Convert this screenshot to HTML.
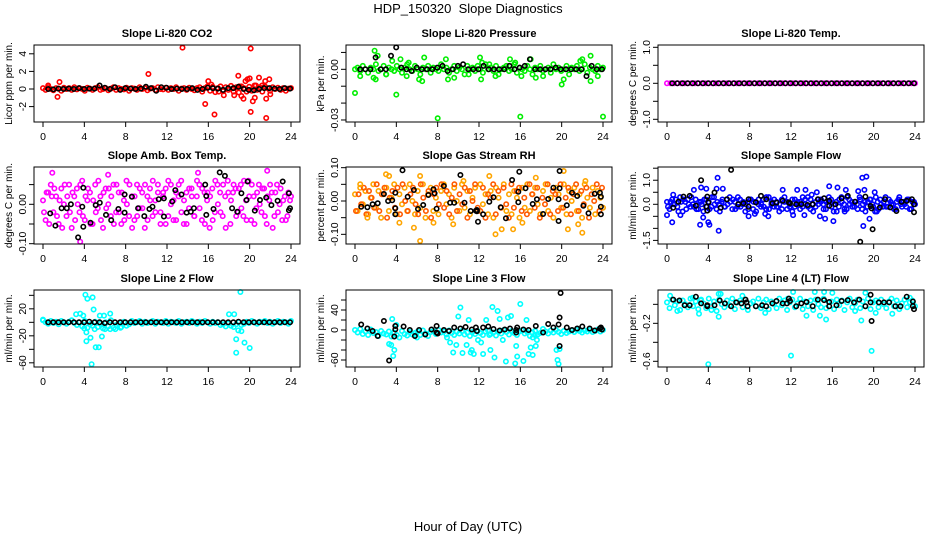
<!DOCTYPE html>
<html><head><meta charset="utf-8"><style>
body{margin:0;background:#fff;}
svg{display:block;font-family:"Liberation Sans",Arial,sans-serif;}
</style></head><body>
<svg id="chart" width="936" height="540" viewBox="0 0 936 540" xmlns="http://www.w3.org/2000/svg">
<rect width="936" height="540" fill="#fff"/>
<text x="468" y="13" font-size="13" text-anchor="middle" xml:space="preserve">HDP_150320  Slope Diagnostics</text>
<text x="468" y="531" font-size="13" text-anchor="middle">Hour of Day (UTC)</text>
</svg>
<script>
// ---------- data ----------
const xTicks=[0,4,8,12,16,20,24];
// P1 CO2
const p1Col=[0.1,-0.1,0.2,0,-0.15,0.1,0.05,-0.2,0.15,0,0.1,-0.1,0.2,-0.05,0.1,0,-0.2,0.15,0.05,-0.1,0.1,0.2,-0.1,0,0.1,-0.15,0.05,0.2,-0.1,0.1,0,-0.05,0.15,-0.2,0.1,0.05,-0.1,0.2,0,0.1,-0.15,0.05,0.1,-0.1,0.2,0,-0.05,0.15,-0.1,0.1,0,0.2,-0.2,0.05,0.1,-0.1,0.15,0,-0.15,0.1,0.2,-0.3,0.1,0.3,-0.2,0.25,-0.35,0.1,0.3,-0.25,0.2,-0.1,0.35,-0.3,0.2,-0.4,0.3,0.1,-0.3,0.25,-0.2,0.4,-0.1,0.2,-0.3,0.3,0.1,-0.2,0.2,0,0.15,-0.1,0.1,-0.2,0.05,0.1];
const p1OutT=[0.5,1.4,1.6,10.2,13.5,15.7,16,16.3,16.6,17,17.5,18.5,18.9,19,19.2,19.4,19.6,19.8,20,20.1,20.1,20.3,20.5,20.6,20.9,21.2,21.5,21.6,21.6,21.9,22];
const p1OutV=[0.4,-0.9,0.8,1.7,4.7,-1.7,0.9,0.5,-2.9,-0.3,-0.7,-0.7,1.5,0.3,-0.8,-1.1,0.9,1.1,1.2,4.6,-2.6,-1.4,-1.0,0.4,1.3,0.4,0.9,-1.1,-3.3,1.1,-0.6];
const p1Blk=[0,-0.05,0.05,0,0.05,0,0.1,0,0.05,0.05,0.4,0.15,0,0.2,-0.1,0.1,0.05,0,0.05,0.25,0.1,-0.2,0.2,0.15,0,0.05,0,0,0.1,-0.1,0,0.15,0.1,0.05,-0.1,0.1,0.1,0.25,0,-0.1,-0.15,0,0.1,0.1,0.05,0,0.1,0.05];
// P2 Pressure
const p2Col=[0,0.001,-0.001,0.002,0,-0.002,0.001,0,0.003,-0.001,0,0.002,-0.003,0.001,0,-0.001,0.002,0,-0.002,0.001,0.003,0,-0.001,0.002,0,-0.003,0.001,0,0.002,-0.002,0.001,0,-0.001,0.003,0,0.001,-0.002,0,0.002,-0.001,0.001,0,-0.003,0.002,0,0.001,-0.001,0.002,0,-0.002,0.003,0,0.001,-0.001,0.002,-0.003,0,0.001,0.002,-0.001,0,0.003,-0.002,0.001,0,-0.001,0.002,0,-0.003,0.001,0,0.002,-0.001,0,0.001,-0.002,0.003,0,0.001,-0.001,0,0.002,-0.003,0.001,0,0.002,-0.001,0,0.003,-0.002,0.001,0,-0.001,0.002,0,0.001];
const p2OutT=[0,0.5,1.8,1.9,2.0,2.2,3.0,3.6,4.0,4.4,5.0,5.2,6.2,6.5,6.7,8.0,8.8,9.0,9.6,11,12.1,12.2,12.3,13,13.6,15,15.5,16,16.1,17,17.5,18.2,20,20.2,21.8,22,22.8,22.8,23.5,24];
const p2OutV=[-0.014,-0.004,-0.005,0.011,-0.006,0.008,-0.003,0.005,-0.015,0.006,-0.004,0.004,-0.006,-0.007,0.007,-0.029,0.006,-0.006,-0.005,-0.003,0.007,-0.006,0.004,0.003,-0.004,0.006,0.004,-0.028,-0.004,0.006,-0.005,-0.004,-0.009,-0.006,0.005,0.006,0.008,-0.007,-0.004,-0.028];
const p2Blk=[0,0,0,0.007,0,0,0.008,0.013,0.001,0,-0.001,0.001,0,0,0,0.001,0.002,-0.001,0,0.002,0.003,0,0,0,0.002,0,0,0,0,0.002,0,0.001,0.002,0.006,0,0,0,0,0.001,0,0,0,0,0,-0.004,0.002,0,0];
// P3 Li-820 Temp
const p3Col=[0,0,0,0,0,0,0,0,0,0,0,0,0,0,0,0,0,0,0,0,0,0,0,0,0,0,0,0,0,0,0,0,0,0,0,0,0,0,0,0,0,0,0,0,0,0,0,0,0,0,0,0,0,0,0,0,0,0,0,0,0,0,0,0,0,0,0,0,0,0,0,0];
const p3Blk=[0,0,0,0,0,0,0,0,0,0,0,0,0,0,0,0,0,0,0,0,0,0,0,0,0,0,0,0,0,0,0,0,0,0,0,0,0,0,0,0,0,0,0,0,0,0,0,0];
// P4 Amb Box Temp
const p4Col=[0.01,-0.04,0.03,0.05,-0.02,0.02,-0.05,0.04,0,-0.03,0.05,-0.06,0.02,0.04,-0.02,0.06,-0.04,0.01,0.03,-0.05,0.05,-0.01,0.02,-0.06,0.04,0,-0.03,0.05,-0.02,0.03,-0.05,0.01,0.06,-0.03,0.02,-0.04,0.05,-0.01,0.03,-0.06,0.02,0.04,-0.03,0.01,0.05,-0.02,0.03,-0.05,0.06,0,-0.04,0.03,0.05,-0.02,0.01,-0.05,0.04,0.02,-0.03,0.06,-0.01,0.04,-0.05,0.03,0.02,-0.04,0.06,0,-0.02,0.05,-0.06,0.03,0.01,0.05,-0.03,0.04,-0.01,0.06,-0.04,0.02,0.05,-0.05,0.03,0,0.04,-0.03,0.02,0.05,-0.06,0.03,-0.02,0.04,0.01,-0.04,0.03,0.02];
const p4Col2=[-0.02,0.03,-0.05,0.02,0.04,-0.03,0.01,-0.06,0.05,0.02,-0.02,0.03,-0.04,0,0.05,-0.03,0.02,0.04,-0.05,0.01,-0.02,0.06,-0.04,0.03,-0.01,0.04,0.02,-0.05,0.05,-0.02,0.03,-0.04,0,0.05,-0.06,0.02,-0.03,0.04,-0.01,0.05,-0.04,0.01,0.06,-0.02,0.03,-0.05,0.02,0.04,-0.03,0.05,0.01,-0.04,0.02,0.06,-0.05,0.03,-0.01,0.04,-0.03,0.02,0.05,-0.04,0.03,0.01,-0.06,0.04,-0.02,0.05,0.03,-0.03,0.02,0.06,-0.05,0.03,0.04,-0.02,0.05,-0.03,0.01,0.06,-0.04,0.02,-0.01,0.05,-0.02,0.04,-0.05,0.01,0.03,-0.03,0.05,0,-0.04,0.02,-0.03,0.01];
const p4OutT=[0.9,3.6,6.3,15,21.7];
const p4OutV=[0.08,-0.095,0.075,0.08,0.085];
const p4BlkT=[0.7,1.2,1.8,2.3,2.7,3.4,3.8,3.9,3.9,4.6,5.1,5.5,6.1,6.6,7.3,7.9,7.9,8.6,9.2,9.8,10.3,10.6,11.2,11.7,11.7,12.5,12.8,13.4,13.9,14.3,14.6,15.7,15.8,15.8,16.5,17.1,17.6,18.3,18.8,19.2,19.7,19.8,20.5,21,21.6,22.1,22.7,23.2,23.8,23.8,23.9];
const p4BlkV=[-0.023,-0.054,-0.01,-0.01,0,-0.084,-0.006,0.042,-0.057,-0.047,-0.002,0.004,-0.027,-0.04,-0.012,0.025,-0.021,0.019,-0.01,-0.03,-0.012,-0.006,0.013,-0.031,0.015,0.007,0.036,0.025,-0.021,-0.019,-0.01,0.05,-0.027,0.021,-0.012,0.081,0.072,-0.01,-0.019,0.028,0.011,0.058,-0.016,0.011,0.017,-0.002,0.009,0.058,0.028,-0.015,-0.01];
// P5 Gas Stream RH
const p5Col=[0.02,-0.03,0.04,-0.01,0.03,-0.04,0.01,0.05,-0.02,0.03,-0.05,0.02,0.04,-0.03,0.01,0.05,-0.04,0.02,-0.01,0.04,-0.03,0.05,0,-0.04,0.03,-0.02,0.05,-0.05,0.02,0.04,-0.03,0.01,-0.04,0.03,0.05,-0.01,0.02,-0.05,0.04,0,-0.03,0.05,-0.02,0.03,-0.04,0.01,0.04,-0.03,0.05,-0.01,0.02,-0.04,0.03,-0.05,0.04,0.01,-0.02,0.05,-0.03,0.02,-0.04,0.03,0.01,-0.05,0.04,-0.02,0.05,-0.03,0.02,0.04,-0.01,-0.04,0.03,0.05,-0.03,0.01,-0.05,0.04,0.02,-0.02,0.05,-0.04,0.03,0,0.04,-0.03,0.02,-0.05,0.05,0.01,-0.02,0.04,-0.04,0.03,0.01,-0.02];
const p5Col2=[-0.03,0.02,-0.01,0.04,-0.04,0.03,0.01,-0.02,0.05,-0.03,0.02,0.04,-0.05,0.01,0.03,-0.02,0.04,-0.04,0.05,0,-0.03,0.02,0.04,-0.01,-0.04,0.05,0.01,-0.03,0.03,-0.05,0.02,0.04,-0.01,0.05,-0.02,0.03,-0.04,0.01,0.05,-0.03,0.02,-0.01,0.04,-0.05,0.03,0,0.05,-0.02,-0.03,0.04,-0.05,0.02,0.01,0.05,-0.04,0.03,-0.02,0.04,-0.01,-0.05,0.05,-0.02,0.03,0.04,-0.03,0.01,-0.04,0.05,0.02,-0.02,0.04,-0.05,0.01,-0.01,0.05,-0.04,0.03,0.02,-0.03,0.05,-0.02,0.01,0.04,-0.04,0.02,0.05,-0.03,0.03,-0.01,0.04,-0.05,0.02,0,0.05,-0.03,0.04];
const p5OutT=[0.5,1.2,3,3.3,4.3,5.7,6.3,6.3,7.6,9.5,10.5,13,13.6,14.2,15.3,16.2,17.5,20.2,20.6,21.6,22,22.3];
const p5OutV=[0.05,-0.05,0.08,0.075,-0.065,-0.08,0.075,-0.12,-0.065,-0.07,0.06,0.075,-0.1,-0.085,-0.085,-0.065,0.07,0.09,-0.085,-0.07,-0.095,0.06];
const p5BlkT=[0.6,1.2,1.7,2.2,2.8,3.2,3.6,3.9,3.9,3.9,4.6,5.1,5.7,6.1,6.6,7.1,7.6,7.7,7.9,8.6,9.2,9.6,10.2,10.6,11.2,11.8,11.8,11.7,11.9,12.4,13,13.4,14.1,14.6,15.2,15.8,15.8,15.9,16.5,17.2,17.6,18.2,18.7,19.2,19.7,19.7,19.8,19.8,20.5,21,21.5,22.1,22.6,23.2,23.7,23.8,23.8,23.8];
const p5BlkV=[-0.017,-0.019,-0.01,-0.007,0.021,0,0.002,0.025,-0.022,-0.04,0.092,0.013,0.033,-0.024,-0.012,0.018,0.035,0.023,-0.023,0.045,-0.005,-0.005,0.078,-0.005,-0.03,-0.027,-0.031,-0.029,-0.062,-0.04,-0.002,0.011,-0.019,-0.052,0.063,-0.004,0.028,0.088,0.038,-0.009,0.005,-0.039,0.006,0.04,-0.06,0.005,0.038,0.09,-0.013,0.025,0.015,-0.014,-0.037,0.022,0.025,0.013,-0.017,-0.04];
// P6 Sample Flow
const p6Col=[0.1,-0.2,0.2,0,-0.1,0.3,-0.3,0.1,0.2,-0.1,0,0.2,-0.2,0.1,-0.3,0.2,0.1,-0.1,0.3,-0.2,0,0.1,-0.1,0.2,0.3,-0.2,0.1,-0.1,0.2,0,-0.3,0.1,0.2,-0.2,0.1,0,-0.1,0.2,-0.2,0.3,0,-0.1,0.1,-0.3,0.2,0.1,-0.2,0,0.2,-0.1,0.1,-0.2,0.3,0,-0.1,0.2,-0.3,0.1,0,0.2,-0.2,0.1,0.3,-0.1,0,-0.3,0.2,0.1,-0.2,0.3,0,-0.1,0.1,-0.2,0.2,0,-0.3,0.1,0.2,-0.1,0.3,-0.2,0,0.1,-0.1,0.2,0,-0.2,0.1,0.3,-0.1,0,0.2,-0.2,0.1,0];
const p6Col2=[-0.1,0.1,0,0.2,-0.3,0.1,0.2,-0.2,0,0.3,-0.1,-0.2,0.1,0,0.2,-0.1,-0.2,0.3,0,0.1,-0.3,0.2,-0.1,0,0.1,0.2,-0.2,0.3,-0.1,0.1,0,-0.2,0.2,0.1,-0.3,0.2,0,-0.1,0.3,-0.2,0.1,0.2,-0.1,0,-0.2,0.3,0.1,-0.1,-0.3,0.2,0,0.1,-0.1,0.2,0.3,-0.2,0,-0.1,0.2,0.1,0,-0.2,0.1,0.2,-0.3,0.1,-0.1,0.3,0,-0.2,0.2,0.1,-0.1,0,0.3,-0.2,0.1,-0.1,0.2,0,-0.3,0.1,0.2,-0.1,0.3,-0.1,0.1,0,-0.2,0.2,0,0.1,-0.1,0.2,-0.2,0.1];
const p6OutT=[0,0.5,0.6,1.3,2.6,3.2,3.3,3.8,3.5,4.0,4.1,4.9,4.8,5.0,5.4,7.9,8.5,9.5,9.8,11.2,12.2,12.6,13.4,13.3,14.0,14.5,14.8,15.3,15.7,16.1,16.5,17.3,17.2,18.5,18.9,19.3,19.1,19.0,19.6,20.1,20.3];
const p6OutV=[-0.45,-0.75,0.4,-0.45,0.6,-0.85,0.7,0.65,-0.55,-0.75,-0.85,1.1,0.65,-1.1,0.65,-0.5,-0.4,-0.4,-0.5,0.6,-0.45,0.6,0.6,-0.45,0.4,0.5,-0.5,-0.6,0.75,-0.7,0.7,0.6,-0.3,0.55,1.1,1.15,0.6,-0.9,-0.6,0.5,-0.3];
const p6BlkT=[0.6,1.1,1.6,2.2,2.8,3.3,3.8,3.9,3.9,4.0,4.6,5.2,5.8,6.2,6.9,7.4,7.9,7.9,8.6,9.1,9.6,10.2,10.6,11.2,11.8,11.9,12.5,13,13.6,14.1,14.6,15.2,15.7,15.7,16.3,16.9,17.5,18.2,18.7,19.2,19.7,19.8,19.9,20.6,21.1,21.6,22.2,22.7,23.2,23.7,23.9,23.9];
const p6BlkV=[-0.14,0.11,0.32,0.35,-0.06,1.0,-0.1,0.32,-0.26,0.08,0.49,-0.14,0.21,1.43,0,0.04,0.21,-0.1,0.08,0.35,0.21,0.04,0.07,0.15,0.08,0.04,0,0.01,-0.03,0,0.21,0.25,0.14,-0.06,0,0.25,0.35,0.11,-1.56,0.32,-0.07,-0.17,-1.04,-0.13,0.21,-0.13,-0.28,0.11,0.14,0.21,0,-0.33];
// P7 Line 2 Flow
const p7Col=[3,0,-2,2,-1,1,-3,2,0,-2,1,3,-1,-4,0,-6,2,-8,-3,-5,1,-7,-2,-9,0,-6,3,-8,-4,-2,-7,1,-5,-3,2,-1,0,2,-2,1,-1,0,2,-2,1,0,-1,2,-2,1,0,-1,2,-2,0,1,-1,2,0,-2,1,-1,2,0,-2,1,-1,0,-4,-3,-6,-2,-5,-7,-3,0,-4,-2,1,-1,2,0,-2,1,0,2,-1,1,-2,0,2,-1,1,0,-2,2];
const p7OutT=[0,3.2,3.6,4.1,4.3,4.8,3.9,4.9,4.0,4.2,4.2,4.6,5.1,5.4,5.7,4.7,5.5,5.9,6.5,18.0,18.5,18.7,18.7,18.9,19.2,19.1,19.5,20.0,6.0,5.0,6.5,7.0,7.5];
const p7OutV=[4,12,13,41,35,37,10,19,-9,-15,-28,-23,-37,-37,-21,-62,10,10,13,12,12,-25,-45,-12,-13,45,-30,-38,-10,-10,-10,-10,-8];
const p7Blk=[0,0,0,0,0,0,0,0,1,0,0,-1,0,0,0,0,0,0,0,0,0,0,0,0,0,0,0,0,0,0,0,0,0,0,0,0,0,1,0,0,0,0,0,0,0,0,0,0];
// P8 Line 3 Flow
const p8Col=[0,-5,2,-8,-3,-10,1,-6,-4,-12,-2,-7,-9,-3,-13,-5,-10,-15,-2,-8,-11,-4,-9,-6,-3,-10,-1,-7,-12,-4,-2,-8,0,-5,-3,-9,-1,-6,-10,-3,-7,-2,-9,-5,-12,-4,-8,-2,-6,-10,-3,-1,-8,-5,-11,-3,-7,0,-4,-9,-2,-6,-10,-3,-1,-7,-4,-12,-5,-2,-9,-6,2,-3,-7,-1,-5,0,-4,-8,-2,-6,-3,-1,-4,0,-2,-5,-1,-3,0,-4,-2,1,-3,0];
const p8OutT=[3.3,3.5,3.6,3.8,3.7,4,6,8.9,9.2,9.5,9.8,10,10.2,10.4,10.8,11,11.3,11.5,11.2,12.4,12.7,13.1,13.5,13.3,13.8,14.0,14.3,14.6,14.8,15.1,15.5,15.6,15.7,16,16.3,16.6,16.8,17.0,17.2,17.4,17.6,17.5,17.2,19.5,19.6,19.7,19.8,11.9,12.2,13];
const p8OutV=[-28,-30,22,-40,-52,10,-15,-15,-25,-45,-30,27,45,-46,-30,20,-40,-48,-45,-48,20,-40,-55,46,38,22,-20,-63,25,28,-67,-32,-53,52,-62,20,-48,-35,-50,-10,-20,-32,-15,-40,-60,-68,-38,-20,-25,-10];
const p8BlkT=[0.6,1.2,1.7,2.2,2.8,3.3,3.8,3.9,3.9,4.7,5.3,5.8,6.2,6.8,7.4,7.9,7.9,8.0,8.6,9.1,9.6,10.2,10.7,11.3,11.7,11.8,12.4,12.9,13.4,14.0,14.5,15.0,15.6,15.6,15.7,16.3,16.8,17.5,18.2,18.7,19.2,19.7,19.8,19.8,19.9,20.5,21.0,21.5,22.0,22.7,23.2,23.7,23.8,23.9];
const p8BlkV=[11,3,-2,-12,18,-61,-13,8,1,7,0,-12,0,-9,1,8,-5,-7,0,-2,5,3,6,1,5,-2,5,7,2,-1,1,3,0,-5,5,1,0,8,-5,12,5,11,25,-32,74,5,0,3,7,3,-1,3,5,1];
// P9 Line 4 (LT) Flow
const p9Col=[0.02,-0.04,0.05,-0.01,0.03,-0.06,0.04,0,-0.03,0.06,-0.02,0.03,-0.05,0.04,0.01,-0.04,0.06,-0.02,0.03,-0.07,0.05,0,-0.03,0.04,-0.01,0.06,-0.05,0.02,0.04,-0.03,0.05,-0.06,0.01,0.03,-0.02,0.06,-0.04,0.02,0.05,-0.05,0.03,0,-0.04,0.06,-0.01,0.04,-0.06,0.02,0.05,-0.03,0.01,0.06,-0.05,0.03,-0.02,0.04,-0.06,0.05,0,-0.03,0.06,-0.04,0.02,0.03,-0.05,0.05,-0.01,0.04,-0.06,0.02,0.06,-0.03,0.01,0.05,-0.04,0.03,-0.02,0.06,-0.05,0.02,0.04,-0.03,0.05,0,-0.04,0.03,0.06,-0.02,0.04,-0.05,0.01,0.05,-0.03,0.02,0.04,-0.02];
const p9OutT=[0.3,1.0,2.5,3.1,3.3,4.0,4.3,5,5.2,5.0,7.3,9.5,11.7,12.0,12.2,13.5,14.3,14.8,15.4,15.2,16.0,18.2,18.8,19.2,19.8,20.2,21.8,23.5];
const p9OutV=[0.09,-0.07,0.07,-0.1,0.05,-0.63,-0.06,-0.13,0.11,0.11,0.09,-0.09,0.06,-0.54,0.13,-0.12,0.13,-0.12,-0.16,0.13,0.12,-0.07,-0.17,0.12,-0.49,-0.09,-0.1,0.07];
const p9BlkT=[0.6,1.2,1.7,2.2,2.8,3.3,3.9,3.9,4.6,5.1,5.6,6.2,6.7,7.2,7.6,7.7,7.8,8.6,9.2,9.6,10.2,10.6,11.2,11.6,11.8,11.9,12.5,13.0,13.5,14.1,14.6,15.2,15.7,15.7,16.4,16.9,17.5,18.1,18.6,19.2,19.7,19.7,19.8,20.5,21,21.5,22.1,22.6,23.2,23.8,23.8,23.9];
const p9BlkV=[0.05,0.04,-0.01,-0.01,0.08,0.01,-0.02,-0.01,-0.01,0.04,0.01,-0.02,0.02,0.01,0.05,0.02,-0.02,-0.02,-0.01,-0.02,0.01,0.035,0.01,0.01,0.06,0.035,-0.02,0.01,0.025,-0.02,0.05,0.045,0.025,-0.02,-0.01,0.035,0.045,0.02,0.05,-0.02,0.1,0.02,-0.175,0.02,0.02,0.02,-0.02,-0.02,0.08,0.03,-0.02,-0.05];

// ---------- layout ----------
const NS="http://www.w3.org/2000/svg";
const svg=document.getElementById('chart');
const colLeft=[34,346,658], rowTop=[45,167,290], BW=266, BH=77;
function mk(tag,attrs,parent){const e=document.createElementNS(NS,tag);for(const k in attrs)e.setAttribute(k,attrs[k]);(parent||svg).appendChild(e);return e;}
function regT(n,a,b){const r=[];for(let i=0;i<n;i++)r.push(a+(b-a)*i/(n-1));return r;}

const panels=[
 {name:'co2',title:'Slope Li-820 CO2',yl:'Licor ppm per min.',c:0,r:0,ymin:-3.75,ymax:5.0,ticks:[-2,0,2,4],labs:['-2','0','2','4'],
  series:[[regT(p1Col.length,0,24),p1Col,'#ff0000'],[p1OutT,p1OutV,'#ff0000'],[regT(p1Blk.length,0.5,23.9),p1Blk,'#000']]},
 {name:'pressure',title:'Slope Li-820 Pressure',yl:'kPa per min.',c:1,r:0,ymin:-0.0312,ymax:0.0144,ticks:[-0.03,-0.02,-0.01,0,0.01],labs:['-0.03','','','0.00',''],
  series:[[regT(p2Col.length,0,24),p2Col,'#00ee00'],[p2OutT,p2OutV,'#00ee00'],[regT(p2Blk.length,0.5,23.9),p2Blk,'#000']]},
 {name:'li820-temp',title:'Slope Li-820 Temp.',yl:'degrees C per min.',c:2,r:0,ymin:-1.075,ymax:1.064,ticks:[-1,-0.5,0,0.5,1],labs:['-1.0','','0.0','','1.0'],
  series:[[regT(p3Col.length,0,24),p3Col,'#ff00ff'],[regT(p3Blk.length,0.5,23.9),p3Blk,'#000']]},
 {name:'amb-box-temp',title:'Slope Amb. Box Temp.',yl:'degrees C per min.',c:0,r:1,ymin:-0.1008,ymax:0.0947,ticks:[-0.1,-0.05,0,0.05],labs:['-0.10','','0.00',''],
  series:[[regT(p4Col.length,0,24),p4Col,'#ff00ff'],[regT(p4Col2.length,0.1,23.9),p4Col2,'#ff00ff'],[p4OutT,p4OutV,'#ff00ff'],[p4BlkT,p4BlkV,'#000']]},
 {name:'gas-stream-rh',title:'Slope Gas Stream RH',yl:'percent per min.',c:1,r:1,ymin:-0.129,ymax:0.102,ticks:[-0.1,-0.05,0,0.05,0.1],labs:['-0.10','','0.00','','0.10'],
  series:[[regT(p5Col.length,0,24),p5Col,'#ffa500'],[regT(p5Col2.length,0.1,23.9),p5Col2,'#ff5a00'],[p5OutT,p5OutV,'#ffa500'],[p5BlkT,p5BlkV,'#000']]},
 {name:'sample-flow',title:'Slope Sample Flow',yl:'ml/min per min.',c:2,r:1,ymin:-1.65,ymax:1.55,ticks:[-1.5,-1,-0.5,0,0.5,1,1.5],labs:['-1.5','','','0.0','','1.0',''],
  series:[[regT(p6Col.length,0,24),p6Col,'#0000ff'],[regT(p6Col2.length,0.1,23.9),p6Col2,'#0000ff'],[p6OutT,p6OutV,'#0000ff'],[p6BlkT,p6BlkV,'#000']]},
 {name:'line2-flow',title:'Slope Line 2 Flow',yl:'ml/min per min.',c:0,r:2,ymin:-66.2,ymax:47.9,ticks:[-60,-40,-20,0,20,40],labs:['-60','','-20','','20',''],
  series:[[regT(p7Col.length,0,24),p7Col,'#00ffff'],[p7OutT,p7OutV,'#00ffff'],[regT(p7Blk.length,0.5,23.9),p7Blk,'#000']]},
 {name:'line3-flow',title:'Slope Line 3 Flow',yl:'ml/min per min.',c:1,r:2,ymin:-74,ymax:80,ticks:[-60,-40,-20,0,20,40,60],labs:['-60','','','0','','40',''],
  series:[[regT(p8Col.length,0,24),p8Col,'#00ffff'],[p8OutT,p8OutV,'#00ffff'],[p8BlkT,p8BlkV,'#000']]},
 {name:'line4-flow',title:'Slope Line 4 (LT) Flow',yl:'ml/min per min.',c:2,r:2,ymin:-0.66,ymax:0.151,ticks:[-0.6,-0.4,-0.2,0],labs:['-0.6','','-0.2',''],
  series:[[regT(p9Col.length,0,24),p9Col,'#00ffff'],[p9OutT,p9OutV,'#00ffff'],[p9BlkT,p9BlkV,'#000']]}
];

panels.forEach(p=>{
  const L=colLeft[p.c], T=rowTop[p.r], B=T+BH;
  const g=mk('g',{});
  
  
  const xs=t=>L+9+t*248/24;
  const ys=v=>B-(v-p.ymin)/(p.ymax-p.ymin)*BH;
  const title=mk('text',{x:L+BW/2,y:T-8,'font-size':11,'font-weight':'bold','text-anchor':'middle'},g);
  title.textContent=p.title;
  
  
  const yt=mk('text',{x:L-22,y:T+BH/2,'font-size':10,'text-anchor':'middle',transform:`rotate(-90 ${L-22} ${T+BH/2})`},g);
  yt.textContent=p.yl;
  
  
  const pg=mk('g',{fill:'none','stroke-width':1.6},g);
  
  
  p.series.forEach(s=>{
    const [tt,vv,col]=s;
    for(let i=0;i<vv.length;i++){
      const c=mk('circle',{cx:xs(tt[i]).toFixed(1),cy:ys(vv[i]).toFixed(1),r:2.2,stroke:col},pg);
      
      
    }
  });
  const box=mk('rect',{x:L,y:T,width:BW,height:BH,fill:'none',stroke:'#000','stroke-width':1},g);
  
  
  xTicks.forEach(t=>{
    const x=xs(t);
    mk('line',{x1:x,y1:B,x2:x,y2:B+5,stroke:'#000'},g);
    const lb=mk('text',{x:x,y:B+18,'font-size':10.5,'text-anchor':'middle'},g);
    lb.textContent=t;
    
    
  });
  p.ticks.forEach((v,i)=>{
    const y=ys(v);
    mk('line',{x1:L-5,y1:y,x2:L,y2:y,stroke:'#000'},g);
    if(p.labs[i]){
      const lb=mk('text',{x:L-8,y:y,'font-size':10.5,'text-anchor':'middle',transform:`rotate(-90 ${L-8} ${y})`},g);
      lb.textContent=p.labs[i];
      
      
    }
  });
});
</script>
</body></html>
